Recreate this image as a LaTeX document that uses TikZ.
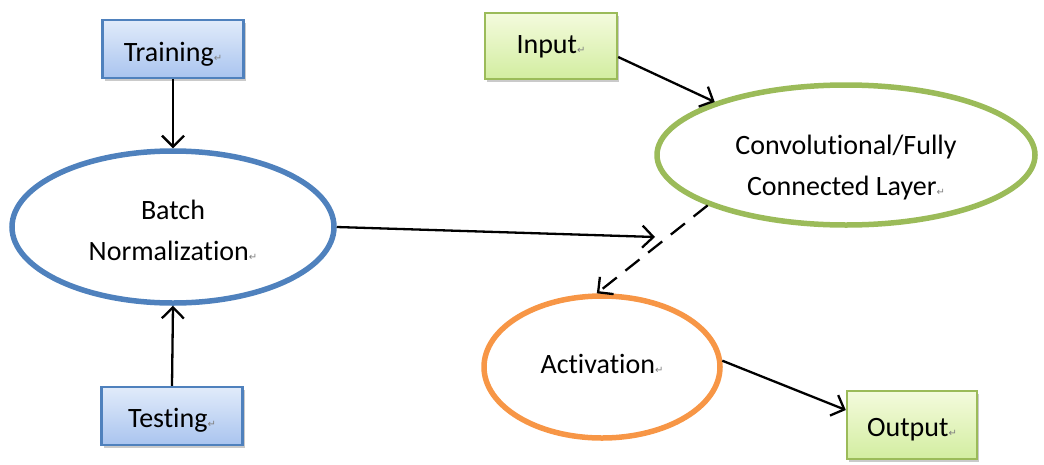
\documentclass[tikz,border=0pt]{standalone}
\usepackage{fontspec}
\setmainfont{Carlito}[Ligatures=NoCommon]
\newfontfamily\markfont{DejaVu Sans}
\usetikzlibrary{arrows.meta,shadows,shapes.geometric}
\definecolor{bnblue}{HTML}{4F81BD}
\definecolor{lgreen}{HTML}{9BBB59}
\definecolor{lorange}{HTML}{F79646}
\definecolor{boxbluetop}{HTML}{E1EBFA}
\definecolor{boxbluebot}{HTML}{A9C4EF}
\definecolor{boxgreentop}{HTML}{F4FBDD}
\definecolor{boxgreenbot}{HTML}{D2EDA0}
\newcommand{\pmark}{{\markfont\fontsize{10}{10}\selectfont\color{gray}↵}}
\tikzset{
  txt/.style={font=\fontsize{28}{41}\selectfont, align=center, text=black, inner sep=0pt},
  caption/.style 2 args={label={[txt,yshift=#1]center:#2}},
  bluebox/.style={draw=bnblue, line width=2.4pt, top color=boxbluetop, bottom color=boxbluebot,
    drop shadow={shadow xshift=2pt, shadow yshift=-3pt, fill=black!35, opacity=0.6},
    minimum width=141pt, minimum height=58pt, inner sep=0pt},
  greenbox/.style={draw=lgreen, line width=2.4pt, top color=boxgreentop, bottom color=boxgreenbot,
    drop shadow={shadow xshift=2pt, shadow yshift=-3pt, fill=black!35, opacity=0.6},
    minimum width=132pt, minimum height=66pt, inner sep=0pt},
  oval/.style={ellipse, line width=5.5pt, inner sep=0pt},
  conn/.style={line width=2.3pt, -{Straight Barb[length=11pt,width=22pt,line width=2.3pt]}},
}
\begin{document}
\begin{tikzpicture}[x=1pt,y=-1pt]
  \useasboundingbox (0,0) rectangle (1044,464);

  % left column: normalization and its two modes
  \node[bluebox, caption={-5pt}{Training\pmark}] (train) at (173,49) {};
  \node[bluebox, caption={-4pt}{Testing\pmark}] (test) at (172,416) {};
  \node[oval, draw=bnblue, minimum width=322pt, minimum height=152pt,
        caption={-3pt}{Batch\\Normalization\pmark}] (bn) at (173,227) {};

  % right column: layer pipeline
  \node[greenbox, caption={-1pt}{Input\pmark}] (in) at (551,46) {};
  \node[oval, draw=lgreen, minimum width=378pt, minimum height=140pt,
        caption={-13pt}{Convolutional/Fully\\Connected Layer\pmark}] (conv) at (846,155) {};
  \node[oval, draw=lorange, minimum width=236pt, minimum height=142pt,
        caption={3pt}{Activation\pmark}] (act) at (602,367) {};
  \node[greenbox, minimum width=130pt, minimum height=68pt,
        caption={-5pt}{Output\pmark}] (out) at (912,425) {};

  \coordinate (bnend) at (655,237);

  \draw[conn] (train.south) -- (bn.north);
  \draw[conn] (test.north) -- (bn.south);
  \draw[conn] (bn.east) -- (bnend);
  \draw[conn] (in.east |- 0,57) -- (conv.158);
  \draw[conn, dash pattern=on 18pt off 11pt] (conv.200) -- (act.94);
  \draw[conn] (act.3) -- (out.west |- 0,410);
\end{tikzpicture}
\end{document}
